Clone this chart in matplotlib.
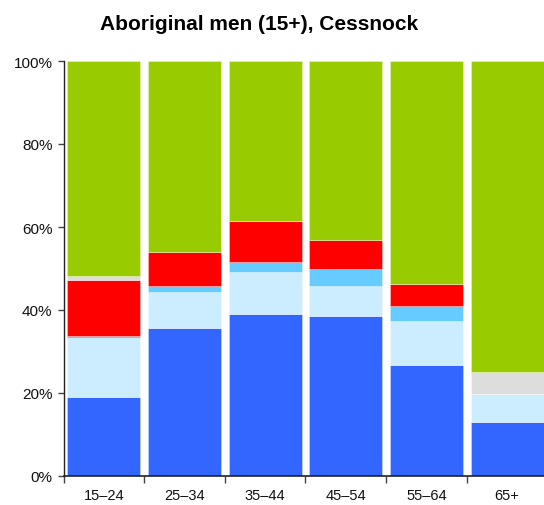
import matplotlib
matplotlib.use("Agg")
import matplotlib.pyplot as plt
import numpy as np

plt.rcParams['font.family'] = ['Liberation Sans', 'DejaVu Sans']

categories = ["15\u201324", "25\u201334", "35\u201344", "45\u201354", "55\u201364", "65+"]
blue = [19.0, 35.7, 39.0, 38.6, 26.8, 13.1]
light_blue = [14.3, 8.7, 10.2, 7.1, 10.6, 6.6]
mid_blue = [0.5, 1.3, 2.4, 4.1, 3.6, 0.0]
red = [13.4, 8.3, 9.8, 7.1, 5.3, 0.0]
grey = [1.0, 0.0, 0.0, 0.0, 0.0, 5.3]
green = [51.8, 46.0, 38.6, 43.1, 53.7, 75.0]
y_ticks = [0, 20, 40, 60, 80, 100]
y_tick_labels = ["0%", "20%", "40%", "60%", "80%", "100%"]
title = "Aboriginal men (15+), Cessnock"

series = [blue, light_blue, mid_blue, red, grey, green]
colors = ["#3366FF", "#CCECFF", "#66CCFF", "#FF0000", "#DDDDDD", "#99CC00"]

W, H = 544, 506
fig = plt.figure(figsize=(W / 100, H / 100), dpi=100)
left, right = 63.5, 547.5
top, bottom = 62, 477
ax = fig.add_axes([left / W, (H - bottom) / H, (right - left) / W, (bottom - top) / H])

x = np.arange(len(categories))
base = np.zeros(len(categories))
for vals, c in zip(series, colors):
    v = np.array(vals)
    ax.bar(x, v, bottom=base, width=0.905, color=c,
           edgecolor=(1, 1, 1, 0.35), linewidth=0.6)
    base += v

ax.set_xlim(-0.5, len(categories) - 0.5)
ax.set_ylim(0, 100)
ax.set_yticks(y_ticks)
ax.set_yticklabels(y_tick_labels, fontsize=11, color="#111111")
ax.set_xticks(x)
ax.set_xticklabels(categories, fontsize=10.5, color="#111111")
ax.tick_params(axis='x', length=0, pad=9)
ax.set_xticks(np.arange(len(categories) + 1) - 0.5, minor=True)
ax.tick_params(axis='x', which='minor', length=5, color="#444444", width=1)
ax.tick_params(axis='y', length=4, color="#444444", width=1, pad=4)

for s in ['top', 'right']:
    ax.spines[s].set_visible(False)
ax.spines['left'].set_color("#222222")
ax.spines['bottom'].set_color("#222222")
ax.spines['left'].set_linewidth(1)
ax.spines['bottom'].set_linewidth(1.2)

fig.text(259 / W, 1 - 25 / H, title, ha='center', va='center',
         fontsize=15, fontweight='bold', color="#000000")

fig.savefig("out.png", dpi=100)
